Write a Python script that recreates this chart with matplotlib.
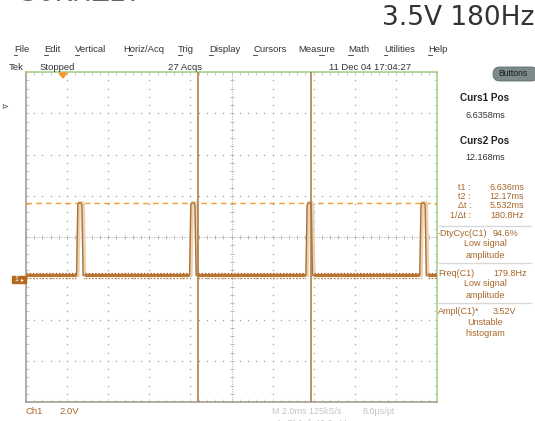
import numpy as np
import matplotlib
matplotlib.use("Agg")
import matplotlib.pyplot as plt
from matplotlib.transforms import Affine2D
from matplotlib.patches import Rectangle, FancyBboxPatch, Polygon

plt.rcParams['font.family'] = ['Liberation Sans', 'DejaVu Sans']

# ---- data (screen ms / screen volts) ----
pulse_times = [0.93, 6.43, 12.09, 17.63]      # ms, pulse centres
low_level = -1.85                               # V (screen)
high_level = 1.65                               # V (screen)
cursor_times = [6.636, 12.168]                  # ms
cursor_level = 1.65                             # V
time_left = -1.69                               # ms at left edge
ms_per_div = 2.0
v_per_div = 2.0

menu_items = ["File", "Edit", "Vertical", "Horiz/Acq", "Trig", "Display",
              "Cursors", "Measure", "Math", "Utilities", "Help"]
menu_x = [14, 44, 75, 123, 178, 209, 253, 298, 348, 384, 428]
menu_ul = [0, 0, 0, 1, 0, 0, 0, 4, 0, 0, 0]

cursor_rows = [("t1 :", "6.636ms"), ("t2 :", "12.17ms"),
               ("\u0394t :", "5.532ms"), ("1/\u0394t :", "180.8Hz")]
meas_rows = [("-DtyCyc(C1)", "94.6%", ["Low signal", "amplitude"]),
             ("Freq(C1)", "179.8Hz", ["Low signal", "amplitude"]),
             ("Ampl(C1)*", "3.52V", ["Unstable", "histogram"])]

W, H = 535, 421
fig = plt.figure(figsize=(W / 100, H / 100), dpi=100)
fig.patch.set_facecolor("white")
px = Affine2D().scale(1, -1).translate(0, H)   # pixel coords, origin top-left

BROWN = "#b0712f"
TAN = "#e8d2b8"
TXT = "#a8662a"
GRID = "#a0a0a0"

# ---- scope axes ----
L, T, R, B = 26, 72, 437, 402
ax = fig.add_axes([L / W, (H - B) / H, (R - L) / W, (B - T) / H])
x0, x1 = time_left, time_left + 10 * ms_per_div
y0, y1 = -4 * v_per_div, 4 * v_per_div
ax.set_xlim(x0, x1)
ax.set_ylim(y0, y1)
ax.set_xticks([])
ax.set_yticks([])
for side in ["top", "right"]:
    ax.spines[side].set_color("#a9d18e")
for side in ["left", "bottom"]:
    ax.spines[side].set_color("#a39e90")
for sp in ax.spines.values():
    sp.set_linewidth(1.2)

# graticule dots
minor_x = x0 + np.arange(0, 50.01) * ms_per_div / 5
minor_y = y0 + np.arange(0, 40.01) * v_per_div / 5
for k in range(1, 10):
    if k == 5:
        continue
    gx = x0 + k * ms_per_div
    ax.plot(np.full_like(minor_y, gx), minor_y, ls="none", marker="s",
            ms=0.9, mew=0, color=GRID)
for k in range(1, 8):
    if k == 4:
        continue
    gy = y0 + k * v_per_div
    ax.plot(minor_x, np.full_like(minor_x, gy), ls="none", marker="s",
            ms=0.9, mew=0, color=GRID)
# centre cross with ticks
cx, cy = x0 + 5 * ms_per_div, 0.0
ax.axvline(cx, color="#b0b0b0", lw=0.6, dashes=(1.5, 1.5))
ax.axhline(cy, color="#b0b0b0", lw=0.6, dashes=(1.5, 1.5))
ax.plot(minor_x, np.full_like(minor_x, cy), ls="none", marker="|", ms=3,
        mew=0.6, color="#b0b0b0")
ax.plot(np.full_like(minor_y, cx), minor_y, ls="none", marker="_", ms=3,
        mew=0.6, color="#b0b0b0")
# edge ticks
edge_c = "#c0c0c0"
ax.plot(minor_x, np.full_like(minor_x, y1), ls="none", marker="|", ms=4,
        mew=0.6, color=edge_c)
ax.plot(minor_x, np.full_like(minor_x, y0), ls="none", marker="|", ms=4,
        mew=0.6, color=edge_c)
ax.plot(np.full_like(minor_y, x0), minor_y, ls="none", marker="_", ms=4,
        mew=0.6, color=edge_c)
ax.plot(np.full_like(minor_y, x1), minor_y, ls="none", marker="_", ms=4,
        mew=0.6, color=edge_c)

# horizontal cursor (dashed orange)
ax.axhline(cursor_level, color="#f0a030", lw=1.0, dashes=(4, 3), zorder=3)

# trace: pulses
tx, ty = [x0], [low_level]
for c in pulse_times:
    tx += [c - 0.16, c - 0.10, c - 0.06, c + 0.06, c + 0.10, c + 0.16]
    ty += [low_level, high_level - 0.1, high_level, high_level,
           high_level - 0.1, low_level]
tx.append(x1)
ty.append(low_level)
ax.plot(np.array(tx) + 0.06, ty, color=TAN, lw=2.6, zorder=4,
        solid_joinstyle="miter")
ax.plot(tx, ty, color=BROWN, lw=1.0, zorder=5)
# trace: thick noisy baseline between pulses
edges = [x0] + [v for c in pulse_times for v in (c - 0.2, c + 0.24)] + [x1]
for a, b in zip(edges[::2], edges[1::2]):
    ax.plot([a, b], [low_level, low_level], color="#b87632", lw=2.2,
            zorder=5, solid_capstyle="butt")
    ax.plot([a, b], [low_level + 0.12, low_level + 0.12], color="#9c5e22",
            lw=0.9, dashes=(1, 1.6), zorder=6)
    ax.plot([a, b], [low_level - 0.12, low_level - 0.12], color="#c58a4a",
            lw=0.9, dashes=(1.4, 1.2), zorder=6)

# vertical cursors
for c in cursor_times:
    ax.axvline(c + 0.03, color="#a8763e", lw=1.1, zorder=7)

# trigger marker
fig.patches.append(Polygon([[59, 73], [67, 73], [63, 78]], closed=True,
                           transform=px, color="#f39a2a", zorder=10))
# ch1 ground marker
fig.patches.append(Rectangle((12, 276), 14, 7, transform=px,
                             color="#b5681e", zorder=10))
fig.text(16, 279.5, "1", transform=px, color="white", fontsize=5,
         ha="center", va="center", zorder=11)
fig.text(22, 279.5, "\u25b8", transform=px, color="white", fontsize=4,
         ha="center", va="center", zorder=11)

# ---- header text ----
fig.text(534, 18, "3.5V 180Hz", transform=px, fontsize=19, ha="right",
         va="center", color="#333333", family="DejaVu Sans")
fig.text(21, -6, "30KHZ27", transform=px, fontsize=19, ha="left",
         va="center", color="#666666", family="DejaVu Sans")

for name, xx in zip(menu_items, menu_x):
    fig.text(xx, 50, name, transform=px, fontsize=6.8, ha="left",
             va="center", color="#333333")
fig.canvas.draw()
rend = fig.canvas.get_renderer()
for t, ul in zip(fig.texts[-len(menu_items):], menu_ul):
    bb = t.get_window_extent(rend)
    s = t.get_text()
    cw = bb.width / len(s)
    xs = bb.x0 + ul * cw
    fig.lines.append(plt.Line2D([xs, xs + cw * 0.9], [bb.y0 - 0.5, bb.y0 - 0.5],
                                transform=None, color="#333333", lw=0.6))

fig.text(9, 67, "Tek", transform=px, fontsize=6.8, va="center", color="#333333")
fig.text(40, 67, "Stopped", transform=px, fontsize=6.8, va="center", color="#333333")
fig.text(168, 67, "27 Acqs", transform=px, fontsize=6.8, va="center", color="#333333")
fig.text(329, 67, "11 Dec 04 17:04:27", transform=px, fontsize=6.8,
         va="center", color="#333333")

fig.patches.append(FancyBboxPatch((493, 67), 45, 14, transform=px,
                                  boxstyle="round,pad=0,rounding_size=7",
                                  fc="#7d8a8a", ec="#5f6b6b", lw=0.6, zorder=10))
fig.text(513, 74, "Buttons", transform=px, fontsize=6.2, ha="center",
         va="center", color="#1a1a1a", zorder=11)
fig.text(1, 108, "\u22b3", transform=px, fontsize=6, ha="left", va="center",
         color="#555555")

# ---- right panel ----
fig.text(485, 98, "Curs1 Pos", transform=px, fontsize=7.2, fontweight="bold",
         ha="center", va="center", color="#222222")
fig.text(485, 116, "6.6358ms", transform=px, fontsize=6.5, ha="center",
         va="center", color="#333333")
fig.text(485, 141, "Curs2 Pos", transform=px, fontsize=7.2, fontweight="bold",
         ha="center", va="center", color="#222222")
fig.text(485, 158, "12.168ms", transform=px, fontsize=6.5, ha="center",
         va="center", color="#333333")
for i, (lab, val) in enumerate(cursor_rows):
    yy = 187 + i * 9.5
    fig.text(471, yy, lab, transform=px, fontsize=6.5, ha="right",
             va="center", color=TXT)
    fig.text(524, yy, val, transform=px, fontsize=6.5, ha="right",
             va="center", color=TXT)

sep_y = [226, 263, 303]
first_y = [233, 273, 312]
for (lab, val, notes), sy, fy in zip(meas_rows, sep_y, first_y):
    fig.lines.append(plt.Line2D([439, 531], [H - sy, H - sy], transform=None,
                                color="#d8d8d8", lw=1.0))
    fig.text(438, fy, lab, transform=px, fontsize=6.5, ha="left",
             va="center", color=TXT)
    fig.text(493, fy, val, transform=px, fontsize=6.5, ha="left",
             va="center", color=TXT)
    for j, n in enumerate(notes):
        fig.text(485, fy + 10.5 + 11.5 * j, n, transform=px, fontsize=6.5,
                 ha="center", va="center", color=TXT)

# ---- bottom text ----
fig.text(26, 412, "Ch1", transform=px, fontsize=6.8, va="center", color=TXT)
fig.text(59, 412, "2.0V", transform=px, fontsize=6.8, va="center", color=TXT)
fig.text(272, 411, "M 2.0ms 125kS/s", transform=px, fontsize=6.5,
         va="center", color="#c4c4c4")
fig.text(363, 411, "8.0\u00b5s/pt", transform=px, fontsize=6.5,
         va="center", color="#c4c4c4")
fig.text(276, 424, "A  Ch1  \u0283  40.0mV", transform=px, fontsize=6.5,
         va="center", color="#c4c4c4")

fig.savefig("out.png", dpi=100)
